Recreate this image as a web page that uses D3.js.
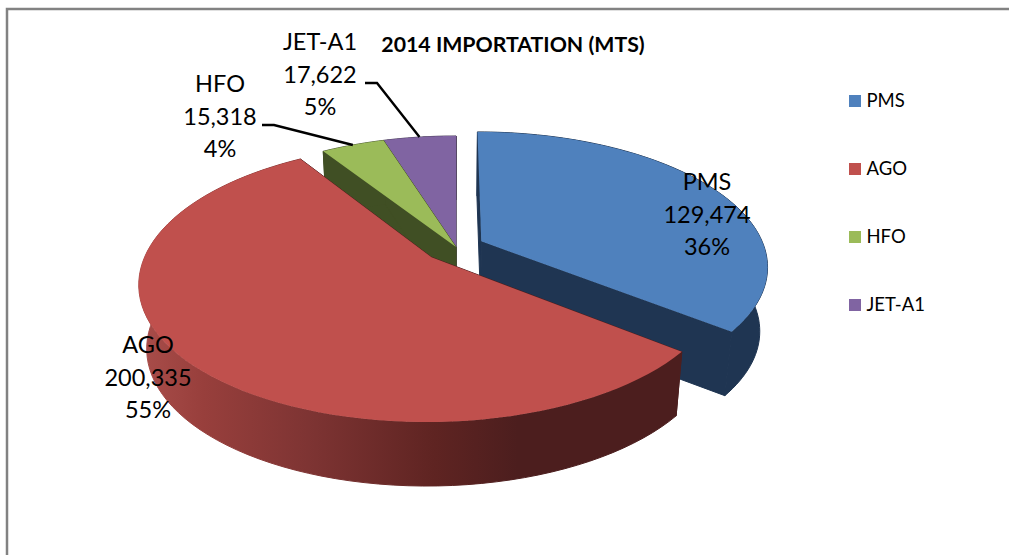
<!DOCTYPE html>
<html>
<head>
<meta charset="utf-8">
<script src="https://cdnjs.cloudflare.com/ajax/libs/d3/7.8.5/d3.min.js"></script>
<style>
  body { margin: 0; background: #fff; }
  text { font-family: Lato, "Open Sans", sans-serif; fill: #000; }
</style>
</head>
<body>
<svg></svg>
<script>
  const categories = ['PMS', 'AGO', 'HFO', 'JET-A1'];
  const importVolumes = [129474, 200335, 15318, 17622];

  const topColors = ['#4f81bd', '#c0504d', '#9bbb59', '#8064a2'];
  const wallColors = ['#1f3552', 'url(#agoWall)', '#404f24', '#3f3151'];
  const explosions = [0.1, 0.115, 0, 0];
  const labelSpots = [[707, 190], [148, 353], [220, 92], [320, 50]];
  const leaderStarts = { 2: [262, 125], 3: [365, 83] };
  const paintOrder = [3, 2, 0, 1];   // back slices first

  const width = 1009, height = 555;

  // pie plane -> screen, k gives the perspective of the 3d pie
  const cx = 456, cy = 247, k = 0.18, depth = 64;
  const scaleX = d3.scaleLinear().domain([-1, 1]).range([-283, 283]);
  const scaleY = d3.scaleLinear().domain([-1, 1]).range([-131, 131]);

  const project = (x, y, lower) => {
    const w = 1 - k * y;
    const px = scaleX(x) / w;
    const py = scaleY(y) / w;
    if (lower) return [cx + px * 0.975, cy + py + depth];
    return [cx + px, cy + py];
  };

  const pie = d3.pie().sort(null).startAngle(0).endAngle(2 * Math.PI);
  const slices = pie(importVolumes);
  const total = d3.sum(importVolumes);
  const formatValue = d3.format(',');
  const formatPct = d3.format('.0%');

  const offset = (d, i) => {
    const mid = (d.startAngle + d.endAngle) / 2;
    return [Math.sin(mid) * explosions[i], -Math.cos(mid) * explosions[i]];
  };

  const rimPoint = (angle, d, i, lower) => {
    const o = offset(d, i);
    return project(o[0] + Math.sin(angle), o[1] - Math.cos(angle), lower);
  };

  const apex = (d, i, lower) => {
    const o = offset(d, i);
    return project(o[0], o[1], lower);
  };

  const rim = (d, i, lower) => {
    const n = 80;
    return d3.range(n + 1).map(j =>
      rimPoint(d.startAngle + (d.endAngle - d.startAngle) * j / n, d, i, lower));
  };

  const line = d3.line();

  const svg = d3.select('svg').attr('width', width).attr('height', height);

  const grad = svg.append('defs').append('linearGradient')
    .attr('id', 'agoWall')
    .attr('gradientUnits', 'userSpaceOnUse')
    .attr('x1', 140).attr('x2', 560).attr('y1', 0).attr('y2', 0);
  [[0, '#a94d4a'], [0.15, '#983f3c'], [0.4, '#7e3433'], [0.7, '#5f2422'], [0.9, '#4c1e1e'], [1, '#4c1e1e']]
    .forEach(s => grad.append('stop').attr('offset', s[0]).attr('stop-color', s[1]));

  // chart frame, cut off by the right and bottom of the picture
  svg.append('path')
    .attr('d', `M7,${height + 2}V9H${width + 2}`)
    .attr('fill', 'none')
    .attr('stroke', '#828282')
    .attr('stroke-width', 2.5);

  const pieGroup = svg.append('g');

  paintOrder.forEach(i => {
    const d = slices[i];
    const topRim = rim(d, i, false);
    const lowRim = rim(d, i, true);
    const g = pieGroup.append('g').attr('class', 'slice');

    // cut faces
    [topRim[0], topRim[topRim.length - 1]].forEach((pt, j) => {
      const low = j === 0 ? lowRim[0] : lowRim[lowRim.length - 1];
      const wall = i === 1 ? '#4c1e1e' : wallColors[i];
      g.append('path')
        .attr('d', line([apex(d, i, false), pt, low, apex(d, i, true)]) + 'Z')
        .attr('fill', wall)
        .attr('stroke', wall)
        .attr('stroke-width', 1);
    });

    // outer wall
    g.append('path')
      .attr('d', line(topRim.concat(lowRim.slice().reverse())) + 'Z')
      .attr('fill', wallColors[i])
      .attr('stroke', wallColors[i])
      .attr('stroke-width', 1);

    // top face
    g.append('path')
      .attr('d', line([apex(d, i, false)].concat(topRim)) + 'Z')
      .attr('fill', topColors[i]);
  });

  // leader lines for the two small slices
  [2, 3].forEach(i => {
    const d = slices[i];
    const mid = (d.startAngle + d.endAngle) / 2;
    const start = leaderStarts[i];
    svg.append('path')
      .attr('d', line([
        start,
        [start[0] + 12, start[1]],
        rimPoint(mid, d, i, false)
      ]))
      .attr('fill', 'none')
      .attr('stroke', '#000')
      .attr('stroke-width', 2.4);
  });

  // data labels
  const labels = svg.selectAll('.label')
    .data(slices)
    .enter().append('text')
    .attr('class', 'label')
    .attr('text-anchor', 'middle')
    .attr('font-size', 23.5);

  labels.each(function(d, i) {
    const lines = [categories[i], formatValue(d.value), formatPct(d.value / total)];
    d3.select(this).selectAll('tspan')
      .data(lines)
      .enter().append('tspan')
      .attr('x', labelSpots[i][0])
      .attr('y', (t, j) => labelSpots[i][1] + j * 32.7)
      .text(t => t);
  });

  svg.append('text')
    .attr('x', 513).attr('y', 52)
    .attr('text-anchor', 'middle')
    .attr('font-size', 21.3)
    .attr('font-weight', 700)
    .text('2014 IMPORTATION (MTS)');

  // legend
  const legendY = d3.scalePoint().domain(categories).range([95, 299]);
  const legend = svg.selectAll('.legend')
    .data(categories)
    .enter().append('g')
    .attr('class', 'legend')
    .attr('transform', c => `translate(849,${legendY(c)})`);

  legend.append('rect')
    .attr('width', 12).attr('height', 12)
    .attr('fill', (c, i) => topColors[i]);

  legend.append('text')
    .attr('x', 17.5).attr('y', 12)
    .attr('font-size', 18.5)
    .text(c => c);
</script>
</body>
</html>
